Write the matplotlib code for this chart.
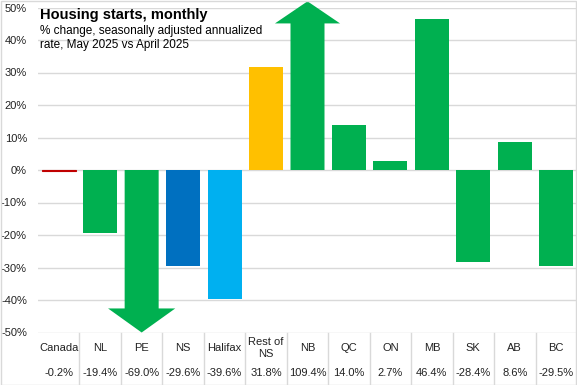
import matplotlib
matplotlib.use("Agg")
import matplotlib.pyplot as plt
import matplotlib.transforms as mtransforms
from matplotlib.patches import Rectangle

plt.rcParams["font.family"] = ["Liberation Sans Narrow", "Liberation Sans", "DejaVu Sans"]

# data
regions = ["Canada", "NL", "PE", "NS", "Halifax", "Rest of\nNS", "NB", "QC", "ON", "MB", "SK", "AB", "BC"]
pct_change = [-0.2, -19.4, -69.0, -29.6, -39.6, 31.8, 109.4, 14.0, 2.7, 46.4, -28.4, 8.6, -29.5]
value_labels = ["-0.2%", "-19.4%", "-69.0%", "-29.6%", "-39.6%", "31.8%", "109.4%", "14.0%", "2.7%", "46.4%", "-28.4%", "8.6%", "-29.5%"]

GREEN = "#00B050"
bar_colors = ["#C00000", GREEN, GREEN, "#0070C0", "#00B0F0", "#FFC000",
              GREEN, GREEN, GREEN, GREEN, GREEN, GREEN, GREEN]

fig = plt.figure(figsize=(5.77, 3.85), dpi=100)
ax = fig.add_axes([38 / 577, 1 - 332.5 / 385, 539 / 577, 325 / 385])

ymin, ymax = -50, 50
bw = 0.82
for i, v in enumerate(pct_change):
    c = bar_colors[i]
    if v > ymax:
        # arrow for values above the axis
        ax.arrow(i, 0, 0, 51.9, width=bw, head_width=1.57, head_length=6.8,
                 length_includes_head=True, color=c, lw=0, clip_on=False, zorder=3)
    elif v < ymin:
        ax.arrow(i, 0, 0, -50.0, width=bw, head_width=1.62, head_length=7.4,
                 length_includes_head=True, color=c, lw=0, clip_on=False, zorder=3)
    else:
        ax.bar(i, v, width=bw, color=c, edgecolor=c, lw=0.8 if abs(v) < 1 else 0, zorder=3)

ax.set_xlim(-0.5, len(regions) - 0.5)
ax.set_ylim(ymin, ymax)
ax.set_yticks(range(-50, 51, 10))
ax.set_yticklabels([f"{t}%" for t in range(-50, 51, 10)], fontsize=8, color="#222222")
ax.tick_params(axis="y", length=0, pad=8)
ax.set_xticks([])
ax.grid(axis="y", color="#D9D9D9", lw=1, zorder=0)
for s in ax.spines.values():
    s.set_visible(False)

# data table under the chart
trans = mtransforms.blended_transform_factory(ax.transData, ax.transAxes)
for i, (name, lab) in enumerate(zip(regions, value_labels)):
    ax.text(i, -0.048, name, transform=trans, ha="center", va="center",
            fontsize=8, color="#222222", linespacing=1.25)
    ax.text(i, -0.125, lab, transform=trans, ha="center", va="center",
            fontsize=8, color="#222222")
for i in range(len(regions) - 1):
    ax.plot([i + 0.5, i + 0.5], [0, -0.16], transform=trans, color="#D9D9D9",
            lw=1, clip_on=False)

# titles
fig.text(40 / 577, 1 - 15 / 385, "Housing starts, monthly", fontsize=10.5,
         fontweight="bold", va="center", ha="left", color="black")
fig.text(40 / 577, 1 - 31 / 385, "% change, seasonally adjusted annualized", fontsize=8.5,
         va="center", ha="left", color="black")
fig.text(40 / 577, 1 - 45 / 385, "rate, May 2025 vs April 2025", fontsize=8.5,
         va="center", ha="left", color="black")

fig.patches.append(Rectangle((0.001, 0.001), 0.997, 0.997, transform=fig.transFigure,
                             fill=False, edgecolor="#D9D9D9", lw=1))

fig.savefig("out.png", dpi=100)
